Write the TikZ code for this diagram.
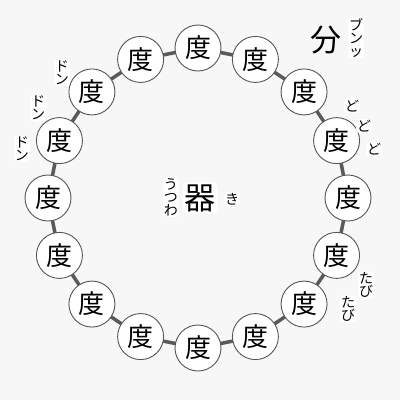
\documentclass[tikz,border=0pt]{standalone}
\usepackage{fontspec}
\setmainfont{Noto Sans CJK JP}
\definecolor{bg}{HTML}{F7F7F7}
\definecolor{ring}{HTML}{555555}
\definecolor{link}{HTML}{5A5A5A}
\tikzset{
  dubox/.style={circle, draw=ring, line width=0.9pt, fill=white, minimum size=46pt, inner sep=0pt, font=\fontsize{26}{26}\selectfont},
  linkline/.style={draw=link, line width=3.5pt},
  kana/.style={fill=white, fill opacity=0.9, text opacity=1, rounded corners=3pt, inner sep=1pt, align=center, font=\fontsize{14}{13}\selectfont},
  bigchar/.style={fill=white, rounded corners=5pt, inner sep=2pt, font=\fontsize{31}{31}\selectfont}
}
\begin{document}
\begin{tikzpicture}[x=1pt,y=-1pt]
\fill[bg] (0,0) rectangle (400,400);
\useasboundingbox (0,0) rectangle (400,400);
\foreach \i in {0,...,15}{
  \coordinate (p\i) at ({198+150*cos(90-22.5*\i)},{198-150*sin(90-22.5*\i)});
}
\foreach \i [evaluate=\i as \j using {int(mod(\i+1,16))}] in {0,...,15}{
  \draw[linkline] (p\i) -- (p\j);
}
\foreach \i in {0,...,15}{
  \node[dubox] (d\i) at (p\i) {度};
}
\node[bigchar] (qi) at (200,198) {器};
\node[kana] (utsuwa) at (171,197) {う\\つ\\わ};
\node[kana] (ki) at (232,199) {き};
\node[font=\fontsize{31}{31}\selectfont, inner sep=1pt] (bun) at (326,40) {分};
\node[kana] (bunn) at (356,38) {ブ\\ン\\ッ};
\node[kana] (don1) at (62,73) {ド\\ン};
\node[kana] (don2) at (38,108) {ド\\ン};
\node[kana] (don3) at (22,149) {ド\\ン};
\node[kana] (do1) at (352,106) {ど};
\node[kana] (do2) at (364,126) {ど};
\node[kana] (do3) at (374,149) {ど};
\node[kana] (tabi1) at (366,285) {た\\び};
\node[kana] (tabi2) at (348,309) {た\\び};
\end{tikzpicture}
\end{document}
